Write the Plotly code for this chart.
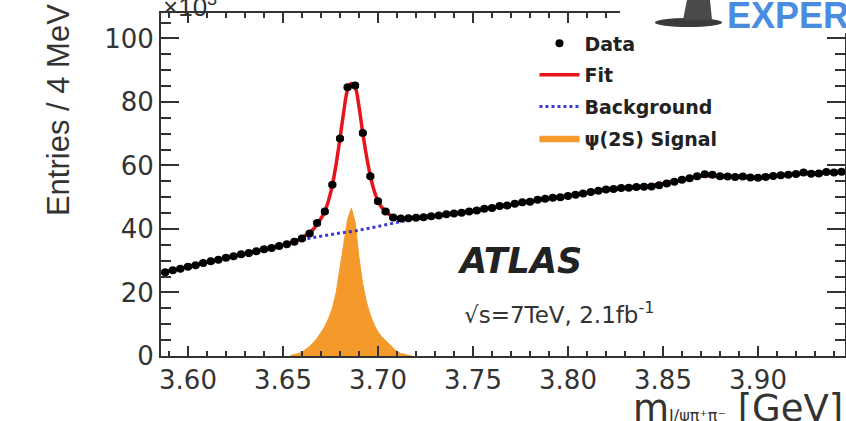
import plotly.graph_objects as go

# ---------------- data (values in units of 10^3 entries) ----------------
data_x = [3.588, 3.592, 3.596, 3.600, 3.604, 3.608, 3.612, 3.616, 3.620, 3.624,
          3.628, 3.632, 3.636, 3.640, 3.644, 3.648, 3.652, 3.656, 3.660, 3.664,
          3.668, 3.672, 3.676, 3.680, 3.684, 3.688, 3.692, 3.696, 3.700, 3.704,
          3.708, 3.712, 3.716, 3.720, 3.724, 3.728, 3.732, 3.736, 3.740, 3.744,
          3.748, 3.752, 3.756, 3.760, 3.764, 3.768, 3.772, 3.776, 3.780, 3.784,
          3.788, 3.792, 3.796, 3.800, 3.804, 3.808, 3.812, 3.816, 3.820, 3.824,
          3.828, 3.832, 3.836, 3.840, 3.844, 3.848, 3.852, 3.856, 3.860, 3.864,
          3.868, 3.872, 3.876, 3.880, 3.884, 3.888, 3.892, 3.896, 3.900, 3.904,
          3.908, 3.912, 3.916, 3.920, 3.924, 3.928, 3.932, 3.936, 3.940, 3.944]
data_y = [26.4, 27.0, 27.5, 28.1, 28.6, 29.3, 29.8, 30.3, 30.9, 31.4,
          32.0, 32.4, 33.0, 33.6, 34.0, 34.6, 35.2, 36.0, 37.0, 38.6,
          41.9, 45.5, 53.9, 68.5, 84.6, 85.2, 70.2, 56.6, 48.7, 45.5,
          43.6, 43.3, 43.4, 43.5, 43.7, 44.0, 44.2, 44.6, 44.9, 45.1,
          45.5, 45.8, 46.4, 46.6, 47.2, 47.4, 47.9, 48.4, 48.6, 49.2,
          49.5, 49.8, 50.0, 50.4, 50.8, 51.2, 51.6, 52.0, 52.4, 52.6,
          52.9, 53.0, 53.2, 53.3, 53.4, 53.8, 54.3, 54.9, 55.5, 56.0,
          56.6, 57.2, 57.1, 56.6, 56.5, 56.4, 56.5, 56.2, 56.1, 56.4,
          56.7, 56.9, 57.1, 57.3, 57.8, 57.4, 57.5, 57.9, 57.8, 58.0]

fit_x = [3.586, 3.600, 3.620, 3.640, 3.650, 3.654, 3.658, 3.660, 3.662, 3.664,
         3.666, 3.668, 3.670, 3.672, 3.674, 3.676, 3.678, 3.680, 3.682, 3.684,
         3.686, 3.688, 3.690, 3.692, 3.694, 3.696, 3.698, 3.700, 3.702, 3.704,
         3.706, 3.708, 3.710, 3.712, 3.716, 3.720, 3.740, 3.760, 3.780, 3.800,
         3.820, 3.840, 3.860, 3.870, 3.880, 3.900, 3.920, 3.946]
fit_y = [26.2, 28.1, 30.9, 33.6, 34.9, 35.6, 36.6, 37.3, 38.0, 38.8,
         39.9, 41.6, 43.3, 45.5, 49.0, 53.9, 60.5, 68.5, 77.0, 83.8,
         85.8, 84.6, 78.5, 70.2, 62.8, 56.6, 52.0, 48.7, 46.8, 45.5,
         44.5, 43.8, 43.4, 43.3, 43.3, 43.5, 44.9, 46.6, 48.6, 50.4,
         52.3, 53.4, 55.4, 56.6, 56.6, 56.2, 57.3, 58.2]

bg_x = [3.586, 3.600, 3.620, 3.640, 3.656, 3.664, 3.672, 3.680, 3.688, 3.696,
        3.704, 3.712, 3.720, 3.740, 3.760, 3.780, 3.800, 3.820, 3.840, 3.860,
        3.870, 3.880, 3.900, 3.920, 3.946]
bg_y = [26.2, 28.1, 30.9, 33.6, 36.1, 37.1, 37.9, 38.7, 39.4, 40.3,
        41.3, 42.3, 43.2, 44.9, 46.6, 48.6, 50.4, 52.3, 53.4, 55.4,
        56.6, 56.6, 56.2, 57.3, 58.2]

sig_x = [3.654, 3.656, 3.658, 3.660, 3.662, 3.664, 3.666, 3.668, 3.670, 3.672,
         3.674, 3.676, 3.678, 3.680, 3.682, 3.684, 3.686, 3.688, 3.690, 3.692,
         3.694, 3.696, 3.698, 3.700, 3.702, 3.704, 3.706, 3.708, 3.710, 3.712,
         3.714, 3.716, 3.718]
sig_y = [0.2, 0.4, 0.7, 1.2, 2.0, 3.0, 4.2, 5.6, 7.4, 9.3,
         11.8, 15.0, 20.0, 27.5, 35.5, 43.0, 46.5, 42.0, 31.0, 22.5,
         16.8, 12.8, 9.8, 7.6, 6.0, 4.8, 3.6, 2.4, 1.4, 0.8,
         0.4, 0.2, 0.0]

AX = "#333333"

fig = go.Figure()

fig.add_trace(go.Scatter(
    x=sig_x, y=sig_y, mode="lines", fill="tozeroy",
    line=dict(color="#f39a2b", width=1), fillcolor="#f59a2a",
    name="<b>ψ(2S) Signal</b>", legendgroup="d", legendrank=4))

fig.add_trace(go.Scatter(
    x=bg_x, y=bg_y, mode="lines", line=dict(color="#3a3ad8", width=3, dash="dot", shape="spline"),
    name="<b>Background</b>", legendgroup="c", legendrank=3))

fig.add_trace(go.Scatter(
    x=fit_x, y=fit_y, mode="lines", line=dict(color="#e8141c", width=3.5, shape="spline"),
    name="<b>Fit</b>", legendgroup="b", legendrank=2))

fig.add_trace(go.Scatter(
    x=data_x, y=data_y, mode="markers",
    marker=dict(color="black", size=8, symbol="circle"),
    error_x=dict(type="constant", value=0.002, color="black", thickness=4.5, width=0),
    name="<b>Data</b>", legendgroup="a", legendrank=1))

axis_common = dict(showline=True, linecolor=AX, linewidth=2, mirror="ticks",
                   ticks="inside", tickcolor=AX, tickwidth=2, automargin=False,
                   showgrid=False, zeroline=False)

fig.update_xaxes(range=[3.5858, 3.9458], tickmode="linear", tick0=3.6, dtick=0.05,
                 tickformat=".2f", ticklen=10,
                 tickfont=dict(family="DejaVu Sans", size=26, color="#333"),
                 minor=dict(dtick=0.01, tick0=3.6, ticks="inside", ticklen=5,
                            tickcolor=AX, tickwidth=1.5),
                 **axis_common)
fig.update_yaxes(range=[0, 108], tickmode="linear", tick0=0, dtick=20, ticklen=18,
                 tickfont=dict(family="DejaVu Sans", size=26, color="#333"),
                 minor=dict(dtick=5, tick0=0, ticks="inside", ticklen=10,
                            tickcolor=AX, tickwidth=1.5),
                 **axis_common)

fig.update_layout(
    width=846, height=421,
    margin=dict(l=161, r=1, t=13, b=65),
    paper_bgcolor="white", plot_bgcolor="white",
    font=dict(family="DejaVu Sans", color="#222"),
    legend=dict(x=0.546, y=0.967, xanchor="left", yanchor="top",
                bgcolor="rgba(0,0,0,0)", tracegroupgap=4, itemwidth=40,
                font=dict(family="DejaVu Sans", size=19, color="#222")),
    shapes=[
        dict(type="rect", xref="paper", yref="paper", x0=0.671, x1=1.02, y0=0.9417, y1=1.1,
             fillcolor="white", line=dict(width=0), layer="above"),
        dict(type="circle", xref="paper", yref="paper", x0=0.7222, x1=0.8202, y0=0.9592, y1=0.9854,
             fillcolor="#3a3a3a", line=dict(width=0), layer="above"),
        dict(type="path", xref="paper", yref="paper",
             path="M 0.7632 0.9800 L 0.8056 0.9800 L 0.8026 1.0379 L 0.7690 1.0379 Z",
             fillcolor="#4a4a4a", line=dict(width=0), layer="above"),
    ],
    annotations=[
        dict(text="×10<sup>3</sup>", xref="paper", yref="paper", x=0.0, y=1.0,
             xanchor="left", yanchor="bottom", yshift=-11, showarrow=False,
             font=dict(family="Liberation Sans", size=26, color="#333")),
        dict(text="EXPERIMENT", xref="paper", yref="paper", x=0.8245, y=0.992,
             xanchor="left", yanchor="middle", showarrow=False,
             font=dict(family="Liberation Sans", size=36, color="#4a8de0", weight="bold")),
        dict(text="Entries / 4 MeV", xref="paper", yref="paper", x=-0.1506, y=0.717,
             xanchor="center", yanchor="middle", textangle=-90, showarrow=False,
             font=dict(family="Liberation Sans", size=31, color="#333")),
        dict(text="m<span style='font-size:16px'>J/ψπ⁺π⁻</span> [GeV]",
             xref="paper", yref="paper", x=1.0, y=-0.085,
             xanchor="right", yanchor="top", showarrow=False,
             font=dict(family="DejaVu Sans", size=37, color="#333")),
        dict(text="<b><i>ATLAS</i></b>", x=3.7405, y=29.9, xanchor="left", yanchor="middle",
             showarrow=False, font=dict(family="DejaVu Sans", size=35, color="#222")),
        dict(text="√s=7TeV, 2.1fb<sup>-1</sup>", x=3.7441, y=13.5, xanchor="left", yanchor="middle",
             showarrow=False, font=dict(family="DejaVu Sans", size=23, color="#333")),
    ],
)

fig.write_html("out.html", config={"displayModeBar": False},
               post_script="document.body.style.margin='0px';")
